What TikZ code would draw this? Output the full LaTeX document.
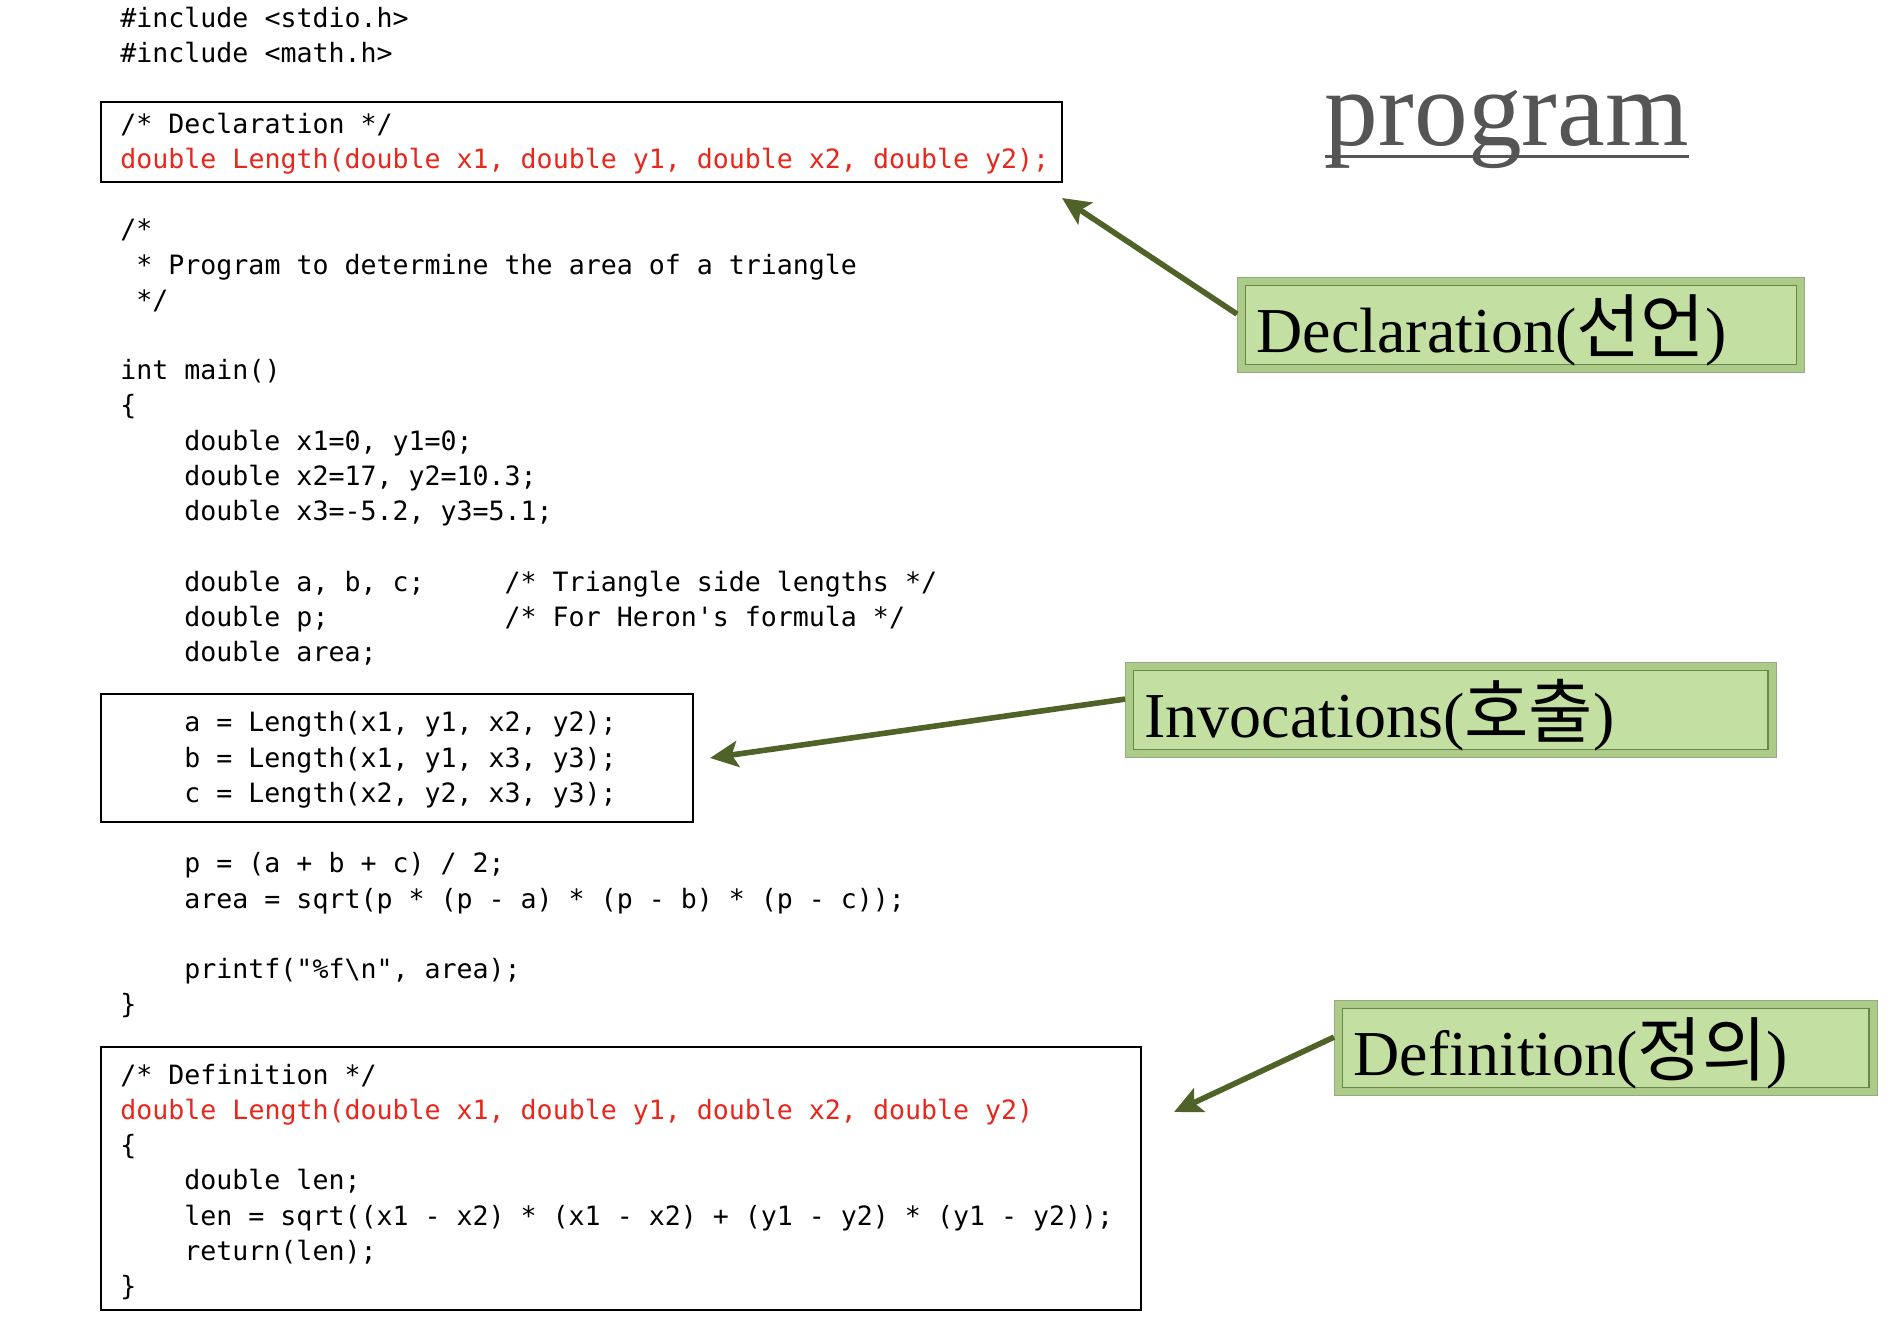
\documentclass[tikz,border=0pt]{standalone}
\usepackage{fontspec}
\usetikzlibrary{arrows.meta}
\newfontfamily\codefont{DejaVu Sans Mono}
\newfontfamily\labelfont{Liberation Serif}
\newfontfamily\hangulfont{Noto Sans CJK KR}
\definecolor{codered}{RGB}{232,38,28}
\definecolor{boxgreen}{RGB}{195,223,161}
\definecolor{rimgreen}{RGB}{172,202,136}
\definecolor{edgegreen}{RGB}{105,135,75}
\definecolor{arrowgreen}{RGB}{79,98,40}
\definecolor{titlegray}{RGB}{85,85,85}
\newcommand{\ko}[1]{{\hangulfont\fontsize{35}{40}\selectfont #1}}
\frenchspacing

\begin{document}
\begin{tikzpicture}[x=0.5pt,y=-0.5pt]
        \tikzstyle{code}=[anchor=base west,inner sep=0pt,font=\codefont\fontsize{13.3}{16}\selectfont]
        \tikzstyle{redcode}=[code,text=codered]
        \tikzstyle{codebox}=[draw,line width=1.2pt,anchor=north west,inner sep=0pt]
        \tikzstyle{notebox}=[anchor=north west,fill=rimgreen,draw=edgegreen!70,line width=0.6pt,minimum height=47.5pt,inner xsep=9.5pt,inner ysep=0pt,align=left,text height=29pt,text depth=2pt,font=\labelfont\fontsize{32}{36}\selectfont,
            path picture={\draw[fill=boxgreen,draw=edgegreen,line width=0.8pt] ([shift={(4pt,-4pt)}]path picture bounding box.north west) rectangle ([shift={(-4pt,4pt)}]path picture bounding box.south east);}]
        \tikzstyle{pointer}=[draw=arrowgreen,line width=2.8pt,-{Stealth[length=14pt,width=13pt,inset=3pt]}]

        \useasboundingbox (0,0) rectangle (1890,1338);

        \draw (120,27.5) node[code] (l0) {\#include <stdio.h>};
        \draw (120,62.7) node[code] (l1) {\#include <math.h>};

        \draw (100,101) node[codebox,minimum width=480.5pt,minimum height=40pt] (declBox) {};
        \draw (120,133.2) node[code] (l3) {/* Declaration */};
        \draw (120,168.4) node[redcode] (l4) {double Length(double x1, double y1, double x2, double y2);};

        \draw (120,238.8) node[code] (l6) {/*};
        \draw (136,274) node[code] (l7) {* Program to determine the area of a triangle};
        \draw (136,309.3) node[code] (l8) {*/};

        \draw (120,379.7) node[code] (l10) {int main()};
        \draw (120,414.9) node[code] (l11) {\{};
        \draw (184,450.1) node[code] (l12) {double x1=0, y1=0;};
        \draw (184,485.4) node[code] (l13) {double x2=17, y2=10.3;};
        \draw (184,520.6) node[code] (l14) {double x3=-5.2, y3=5.1;};

        \draw (184,591) node[code] (l16) {double a, b, c;~~~~~/* Triangle side lengths */};
        \draw (184,626.2) node[code] (l17) {double p;~~~~~~~~~~~/* For Heron's formula */};
        \draw (184,661.5) node[code] (l18) {double area;};

        \draw (100,693) node[codebox,minimum width=296pt,minimum height=64pt] (invBox) {};
        \draw (184,731.9) node[code] (l20) {a = Length(x1, y1, x2, y2);};
        \draw (184,767.1) node[code] (l21) {b = Length(x1, y1, x3, y3);};
        \draw (184,802.3) node[code] (l22) {c = Length(x2, y2, x3, y3);};

        \draw (184,872.8) node[code] (l24) {p = (a + b + c) / 2;};
        \draw (184,908) node[code] (l25) {area = sqrt(p * (p - a) * (p - b) * (p - c));};

        \draw (184,978.4) node[code] (l27) {printf("\%f\textbackslash n", area);};
        \draw (120,1013.7) node[code] (l28) {\}};

        \draw (100,1046) node[codebox,minimum width=520pt,minimum height=131.5pt] (defBox) {};
        \draw (120,1084.1) node[code] (l30) {/* Definition */};
        \draw (120,1119.3) node[redcode] (l31) {double Length(double x1, double y1, double x2, double y2)};
        \draw (120,1154.5) node[code] (l32) {\{};
        \draw (184,1189.8) node[code] (l33) {double len;};
        \draw (184,1225) node[code] (l34) {len = sqrt((x1 - x2) * (x1 - x2) + (y1 - y2) * (y1 - y2));};
        \draw (184,1260.2) node[code] (l35) {return(len);};
        \draw (120,1295.4) node[code] (l36) {\}};

        % title
        \draw (1324.5,146) node[anchor=base west,inner sep=0pt,text=titlegray,font=\labelfont\fontsize{53.7}{60}\selectfont] (title) {program};
        \draw[titlegray,line width=1.5pt] ([yshift=-5.5pt]title.base west) -- ([yshift=-5.5pt]title.base east);

        % callouts
        \draw (1237,277) node[notebox,text width=264.5pt] (declLabel) {Declaration(\ko{선언})};
        \draw (1125,662) node[notebox,text width=306.3pt] (invLabel) {Invocations(\ko{호출})};
        \draw (1334,1000) node[notebox,text width=252.3pt] (defLabel) {Definition(\ko{정의})};

        \coordinate (declTip) at (1062,198);
        \coordinate (invTip) at (710,758);
        \coordinate (defTip) at (1174,1112);

        \draw[pointer] ([yshift=5.5pt]declLabel.west) -- (declTip);
        \draw[pointer] ([yshift=5.5pt]invLabel.west) -- (invTip);
        \draw[pointer] ([yshift=5.5pt]defLabel.west) -- (defTip);

    \end{tikzpicture}
\end{document}
